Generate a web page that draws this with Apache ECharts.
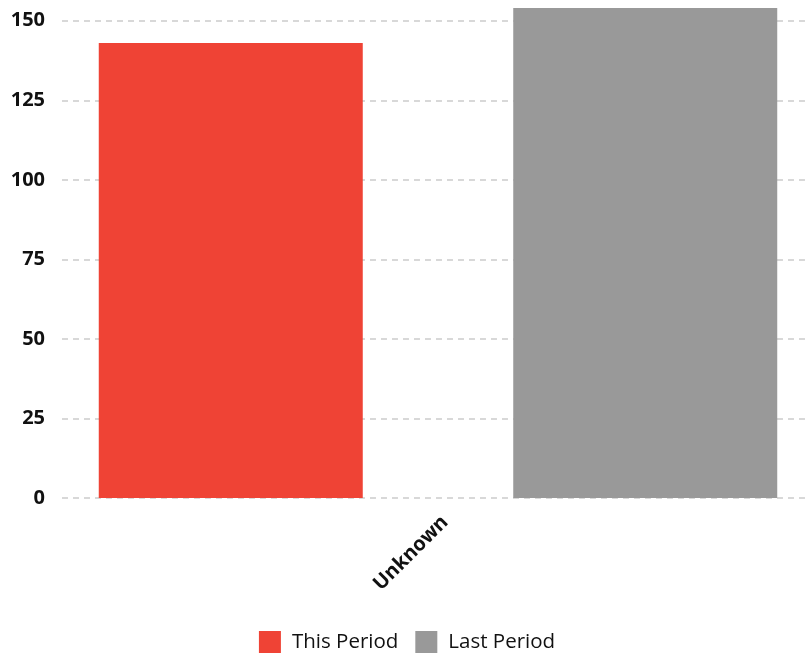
<!DOCTYPE html>
<html>
<head>
<meta charset="utf-8">
<style>
  html, body { margin: 0; padding: 0; background: #fff; overflow: hidden; }
  #chart { width: 814px; height: 655px; }
</style>
<script src="https://cdn.jsdelivr.net/npm/echarts@6/dist/echarts.min.js"></script>
</head>
<body>
<div id="chart"></div>
<script>
// Categories and series values
const categories = ['Unknown'];
const thisPeriod = [143];
const lastPeriod = [154];
const seriesNames = ['This Period', 'Last Period'];
const yTicks = { min: 0, max: 154, interval: 25 };

const chart = echarts.init(document.getElementById('chart'));
const fontFamily = '"Open Sans", "DejaVu Sans", sans-serif';

chart.setOption({
  animation: false,
  textStyle: { fontFamily },
  grid: { left: 62, right: 0, top: 8, bottom: 157, containLabel: false },
  legend: {
    data: seriesNames,
    bottom: -3,
    left: 'center',
    itemWidth: 22,
    itemHeight: 22,
    itemGap: 17,
    icon: 'rect',
    textStyle: { fontSize: 20.5, color: '#111', fontFamily, padding: [0, 0, 0, 6] }
  },
  xAxis: {
    type: 'category',
    data: categories,
    axisLine: { show: false },
    axisTick: { show: false },
    axisLabel: {
      rotate: 45,
      margin: 14,
      verticalAlign: 'top',
      fontSize: 20,
      fontWeight: 'bold',
      color: '#111',
      fontFamily
    }
  },
  yAxis: {
    type: 'value',
    min: yTicks.min,
    max: yTicks.max,
    interval: yTicks.interval,
    axisLine: { show: false },
    axisTick: { show: false },
    axisLabel: {
      showMaxLabel: false,
      margin: 17,
      fontSize: 20,
      fontWeight: 'bold',
      color: '#111',
      fontFamily
    },
    splitLine: {
      showMaxLine: false,
      lineStyle: { color: '#cccccc', type: [6, 5], width: 1.5 }
    }
  },
  series: [
    {
      name: seriesNames[0],
      type: 'bar',
      data: thisPeriod,
      barWidth: 264,
      barGap: '57%',
      itemStyle: { color: '#EF4335' }
    },
    {
      name: seriesNames[1],
      type: 'bar',
      data: lastPeriod,
      barWidth: 264,
      itemStyle: { color: '#999999' }
    }
  ]
});
</script>
</body>
</html>
